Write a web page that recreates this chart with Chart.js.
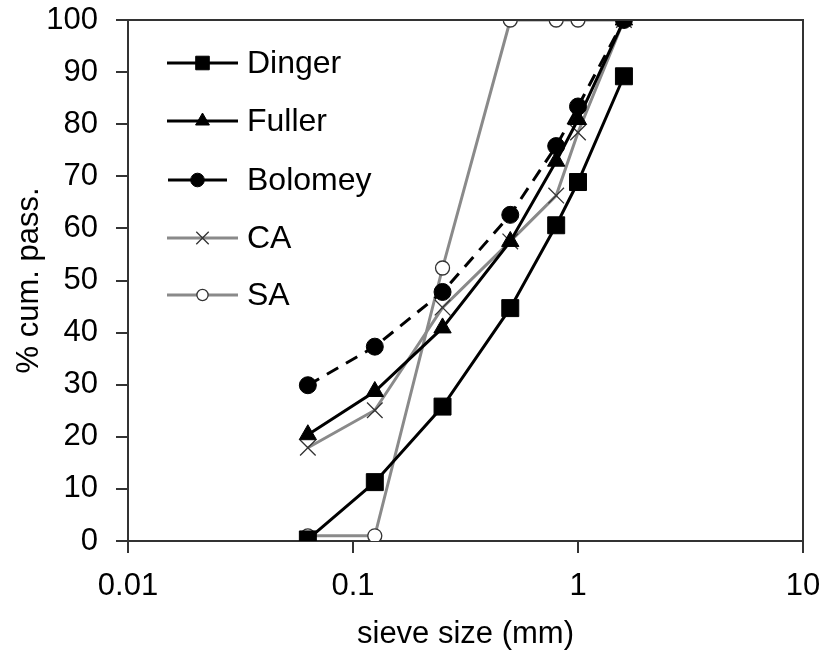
<!DOCTYPE html>
<html>
<head>
<meta charset="utf-8">
<script src="https://cdn.jsdelivr.net/npm/chart.js@4/dist/chart.umd.min.js"></script>
<style>
    html, body { margin: 0; padding: 0; background: #fff; }
    #wrap { width: 824px; height: 657px; }
</style>
</head>
<body>
<div id="wrap"><canvas id="gradingChart"></canvas></div>
<script>
// sieve sizes in mm
const sieveSizes = [0.063, 0.125, 0.25, 0.5, 0.8, 1, 1.6];

// cumulative passing (%)
const dinger  = [0.3, 11.3, 25.8, 44.7, 60.6, 68.9, 89.2];
const fuller  = [20.4, 28.7, 40.9, 57.5, 72.9, 80.9, 100];
const bolomey = [29.9, 37.3, 47.8, 62.6, 75.8, 83.4, 100];
const ca      = [17.9, 25.1, 44.8, 57.5, 66.3, 78.4, 100];
const sa      = [1, 1, 52.4, 100, 100, 100, 100];

const xTicks = [0.01, 0.1, 1, 10];

const GRAY = "#8a8a8a";
const FONT = "'Liberation Sans', Arial, sans-serif";

function toPoints(values) {
    return sieveSizes.map((s, i) => ({ x: s, y: values[i] }));
}

const datasets = [
    {
        label: "Dinger", data: toPoints(dinger),
        borderColor: "#000", backgroundColor: "#000", borderWidth: 3,
        pointStyle: "rect", pointRadius: 12, pointBorderWidth: 1
    },
    {
        label: "Fuller", data: toPoints(fuller),
        borderColor: "#000", backgroundColor: "#000", borderWidth: 3,
        pointStyle: "triangle", pointRadius: 10, pointBorderWidth: 1
    },
    {
        label: "Bolomey", data: toPoints(bolomey),
        borderColor: "#000", backgroundColor: "#000", borderWidth: 3,
        borderDash: [13, 9],
        pointStyle: "circle", pointRadius: 8.5, pointBorderWidth: 1
    },
    {
        label: "CA", data: toPoints(ca),
        borderColor: GRAY, backgroundColor: GRAY, borderWidth: 3,
        pointStyle: "crossRot", pointRadius: 11, pointBorderWidth: 1.3,
        pointBorderColor: "#333"
    },
    {
        label: "SA", data: toPoints(sa),
        borderColor: GRAY, backgroundColor: "#fff", borderWidth: 3,
        pointStyle: "circle", pointRadius: 7, pointBorderWidth: 1.3,
        pointBorderColor: "#333"
    }
];

// closes the plot box on the top and right side
const frameBox = {
    id: "frameBox",
    afterDraw(chart) {
        const { ctx, chartArea: a } = chart;
        ctx.save();
        ctx.strokeStyle = "#333";
        ctx.lineWidth = 2;
        ctx.beginPath();
        ctx.moveTo(a.left, a.top);
        ctx.lineTo(a.right, a.top);
        ctx.lineTo(a.right, a.bottom);
        ctx.stroke();
        ctx.restore();
    }
};

// legend drawn inside the plot, top left
const insideLegend = {
    id: "insideLegend",
    afterDraw(chart) {
        const ctx = chart.ctx;
        const rows = [63, 121, 180, 238, 295];
        ctx.save();
        chart.data.datasets.forEach((ds, i) => {
            const y = rows[i];
            const x0 = ds.label === "Bolomey" ? 168 : 167;
            const x1 = ds.label === "Bolomey" ? 227 : 238;
            const mx = (x0 + x1) / 2;
            ctx.strokeStyle = ds.borderColor;
            ctx.lineWidth = 3;
            ctx.setLineDash([]);
            ctx.beginPath();
            ctx.moveTo(x0, y);
            ctx.lineTo(x1, y);
            ctx.stroke();

            ctx.fillStyle = ds.backgroundColor;
            ctx.strokeStyle = ds.pointBorderColor || ds.borderColor;
            ctx.lineWidth = ds.pointBorderWidth;
            Chart.helpers.drawPoint(ctx, {
                pointStyle: ds.pointStyle,
                radius: ds.pointRadius * 0.8,
                rotation: 0,
                borderWidth: ds.pointBorderWidth
            }, mx, y);

            ctx.fillStyle = "#000";
            ctx.font = "32px " + FONT;
            ctx.textBaseline = "middle";
            ctx.textAlign = "left";
            ctx.fillText(ds.label, 247, y + 1);
        });
        ctx.restore();
    }
};

const ctx = document.getElementById("gradingChart").getContext("2d");

new Chart(ctx, {
    type: "line",
    data: { datasets: datasets },
    options: {
        responsive: true,
        maintainAspectRatio: false,
        animation: false,
        layout: { padding: 0 },
        plugins: {
            legend: { display: false },
            tooltip: { enabled: false }
        },
        elements: { line: { tension: 0 } },
        scales: {
            x: {
                type: "logarithmic",
                min: 0.01,
                max: 10,
                afterBuildTicks: scale => {
                    scale.ticks = xTicks.map(v => ({ value: v }));
                },
                afterFit: scale => {
                    scale.height = 116;
                    scale.paddingLeft = 0;
                    scale.paddingRight = 21;
                },
                border: { color: "#333", width: 2 },
                grid: {
                    drawOnChartArea: false,
                    drawTicks: true,
                    tickLength: 12,
                    color: "#333",
                    lineWidth: 2
                },
                ticks: {
                    autoSkip: false,
                    maxRotation: 0,
                    padding: 15,
                    color: "#000",
                    font: { family: FONT, size: 31 },
                    callback: v => String(v)
                },
                title: {
                    display: true,
                    text: "sieve size (mm)",
                    color: "#000",
                    font: { family: FONT, size: 31 },
                    padding: { top: 0, bottom: 4 }
                }
            },
            y: {
                min: 0,
                max: 100,
                afterFit: scale => {
                    scale.width = 128;
                    scale.paddingTop = 20;
                    scale.paddingBottom = 0;
                },
                border: { color: "#333", width: 2 },
                grid: {
                    drawOnChartArea: false,
                    drawTicks: true,
                    tickLength: 12,
                    color: "#333",
                    lineWidth: 2
                },
                ticks: {
                    stepSize: 10,
                    padding: 18,
                    color: "#000",
                    font: { family: FONT, size: 31 }
                },
                title: {
                    display: true,
                    text: "% cum. pass.",
                    color: "#000",
                    font: { family: FONT, size: 31 },
                    padding: { top: 11, bottom: 0 }
                }
            }
        }
    },
    plugins: [frameBox, insideLegend]
});
</script>
</body>
</html>
